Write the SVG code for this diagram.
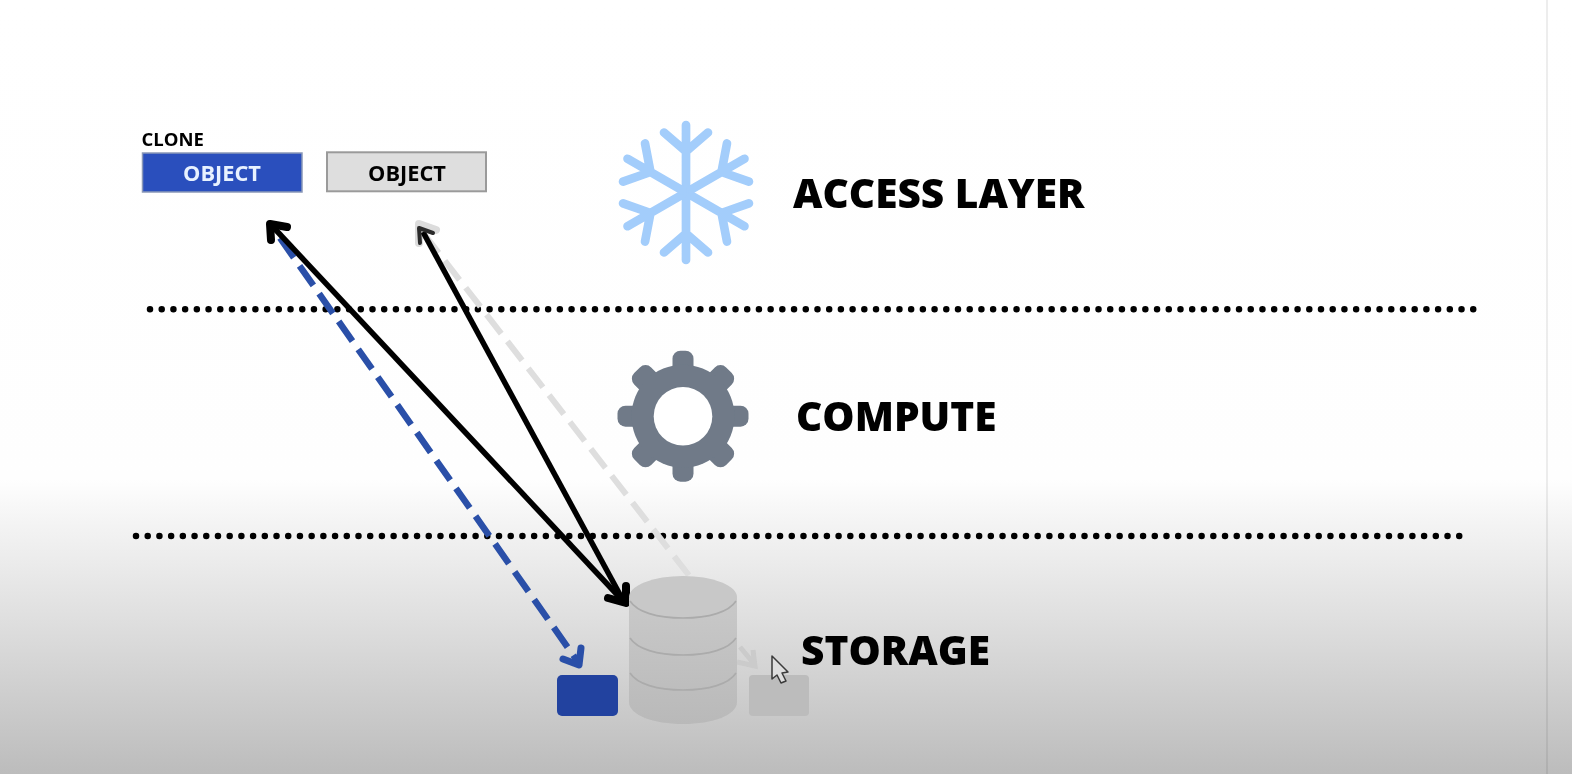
<svg xmlns="http://www.w3.org/2000/svg" width="1572" height="774" viewBox="0 0 1572 774">
<style>
text{font-family:"Open Sans","Liberation Sans",sans-serif;font-weight:800;fill:#060606}
.t{font-size:40.600px}
.o{font-size:21.800px;font-weight:700;text-anchor:middle}
.dot{fill:none;stroke:#050505;stroke-width:6.500;stroke-linecap:round;stroke-dasharray:0 11.71}
.flake{fill:none;stroke:#a3cdfb;stroke-width:8.700;stroke-linecap:round;stroke-linejoin:round}
.ln{fill:none;stroke:#ababab;stroke-width:1.600}
.k{fill:none;stroke:#050505;stroke-width:5.500}
.b{fill:none;stroke:#2a50a8;stroke-width:6.500;stroke-dasharray:24 10}
.g{fill:none;stroke:#dedede;stroke-width:6;stroke-dasharray:24 10}
.gh{fill:none;stroke-linecap:round;stroke-linejoin:round}
</style>
<defs>
<linearGradient id="bg" x1="0" y1="0" x2="0" y2="1">
<stop offset="0" stop-color="#ffffff"/><stop offset="0.62" stop-color="#fefefe"/><stop offset="0.68" stop-color="#f3f3f3"/><stop offset="0.8" stop-color="#dfdfdf"/><stop offset="1" stop-color="#bcbcbc"/>
</linearGradient>
<linearGradient id="cyl" x1="0" y1="0" x2="0" y2="1">
<stop offset="0" stop-color="#c9c9c9"/><stop offset="1" stop-color="#b9b9b9"/>
</linearGradient>
<filter id="soft" x="-2%" y="-2%" width="104%" height="104%"><feGaussianBlur stdDeviation="0.700"/></filter>
<g id="arm"><path class="flake" d="M0 -4V-67.500M-22 -60L0 -41L22 -60"/></g>
</defs>
<rect id="background" width="1572" height="774" fill="url(#bg)"/>
<rect id="edge" x="1546" y="0" width="2" height="774" fill="#000" fill-opacity="0.07"/>
<g filter="url(#soft)">
<g id="separators">
<path class="dot" d="M150 309.300H1474"/>
<path class="dot" d="M136 536H1460"/>
</g>
<g id="connectors">
<path class="g" d="M424 234L691 578"/>
<path class="gh" d="M419 243L419 224L436 230" stroke="#dcdcdc" stroke-width="8"/>
<path d="M740 647L755 665M737 662L755 666L753 650" fill="none" stroke="#cbcbcb" stroke-width="5"/>
<path class="b" d="M280 238L578 662"/>
<path class="gh" d="M563 659L579 665L581 648" stroke="#2a50a8" stroke-width="7"/>
<path class="k" d="M274 228L624 602"/>
<path class="k" d="M423 232L624 602"/>
<path class="gh" d="M271 240L270 224L287 227" stroke="#050505" stroke-width="8"/>
<path class="gh" d="M420 243L419 228L433 233" stroke="#2a2a2a" stroke-width="4"/>
<path class="gh" d="M608 598L626 603L626 586" stroke="#050505" stroke-width="8"/>
</g>
<g id="clone-object">
<text x="141.500" y="145.700" style="font-size:18.500px;font-weight:700">CLONE</text>
<rect x="142.500" y="153" width="159.500" height="39" fill="#2b50bd" stroke="#8a98b8" stroke-width="1.500"/>
<text class="o" x="222" y="181" style="fill:#e8f2ff">OBJECT</text>
</g>
<g id="object">
<rect x="327" y="152.300" width="159" height="39" fill="#dedede" stroke="#9a9a9a" stroke-width="2"/>
<text class="o" x="407" y="181">OBJECT</text>
</g>
<g id="access-layer">
<g transform="translate(686 192.500)">
<use href="#arm"/><use href="#arm" transform="rotate(60)"/><use href="#arm" transform="rotate(120)"/><use href="#arm" transform="rotate(180)"/><use href="#arm" transform="rotate(240)"/><use href="#arm" transform="rotate(300)"/>
</g>
<text class="t" x="793" y="207.500">ACCESS LAYER</text>
</g>
<g id="compute">
<g transform="translate(683 416.200)" fill="#6f7a88">
<rect x="-10.500" y="-65.500" width="21" height="131" rx="8"/>
<rect x="-12" y="-65" width="24" height="130" rx="8" transform="rotate(45)"/>
<rect x="-10.500" y="-65.500" width="21" height="131" rx="8" transform="rotate(90)"/>
<rect x="-12" y="-65" width="24" height="130" rx="8" transform="rotate(135)"/>
<circle r="51.500"/>
<circle r="29.300" fill="#fff"/>
</g>
<text class="t" x="796" y="431">COMPUTE</text>
</g>
<g id="storage">
<rect x="557" y="675" width="61" height="41" rx="5" fill="#20439f"/>
<path d="M629 598V702C629 715 653 724 683 724C713 724 737 715 737 702V598Z" fill="url(#cyl)"/>
<ellipse cx="683" cy="597" rx="54" ry="21" fill="#c8c8c8"/>
<path class="ln" d="M630 601C637 612 657 618 683 618C709 618 729 612 736 601"/>
<path class="ln" d="M630 638C637 649 657 655 683 655C709 655 729 649 736 638"/>
<path class="ln" d="M630 673C637 684 657 690 683 690C709 690 729 684 736 673"/>
<rect x="749" y="675" width="60" height="41" rx="4" fill="#bcbcbc"/>
<path d="M772 656L772 679L777 675L781 683L786 681L782 673L788 672Z" fill="#dedede" stroke="#3a3a3a" stroke-width="1.500" stroke-linejoin="round"/>
<text class="t" x="801" y="665">STORAGE</text>
</g>
</g>
</svg>
